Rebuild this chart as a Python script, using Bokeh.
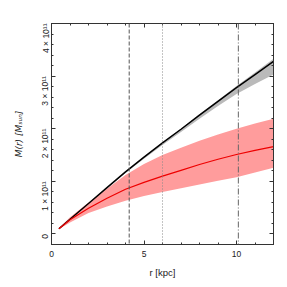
import math
from bokeh.plotting import figure
from bokeh.models import Range1d, LinearAxis, Span, FixedTicker
from bokeh.embed import file_html
from bokeh.resources import INLINE

# radius [kpc]
r = [0.4, 1, 2, 3, 4, 5, 6, 7, 8, 9, 10, 11, 12]
# total mass (black) [1e11 Msun]
m_black = [0.10, 0.28, 0.58, 0.88, 1.18, 1.46, 1.73, 1.99, 2.26, 2.52, 2.78, 3.03, 3.28]
m_grey_hi = [0.10, 0.28, 0.58, 0.88, 1.185, 1.47, 1.74, 2.00, 2.28, 2.54, 2.81, 3.07, 3.33]
m_grey_lo = [0.10, 0.28, 0.57, 0.87, 1.16, 1.43, 1.69, 1.94, 2.19, 2.43, 2.66, 2.85, 3.03]
# red model
m_red = [0.10, 0.27, 0.49, 0.68, 0.85, 0.98, 1.10, 1.21, 1.32, 1.42, 1.51, 1.59, 1.66]
m_red_hi = [0.11, 0.32, 0.60, 0.86, 1.12, 1.33, 1.50, 1.64, 1.77, 1.89, 2.00, 2.10, 2.19]
m_red_lo = [0.09, 0.22, 0.40, 0.52, 0.63, 0.72, 0.80, 0.87, 0.94, 1.01, 1.08, 1.17, 1.26]
# vertical reference lines [kpc]
v_dashed = 4.2
v_dotted = 6.0
v_dashdot = 10.1

y_ticks = [0, 1e11, 2e11, 3e11, 4e11]
y_tick_labels = ["0", "1 × 10¹¹", "2 × 10¹¹", "3 × 10¹¹", "4 × 10¹¹"]
x_ticks = [0, 5, 10]
x_label = "r [kpc]"
y_label = "M(r) [Mₛᵤₙ]"

S = 1e11
FONT = "Liberation Sans"
AX = "#333333"
TXT = "#222222"

p = figure(frame_width=222, frame_height=221, output_backend="svg", toolbar_location=None,
           x_range=Range1d(0, 12), y_range=Range1d(-0.2e11, 4e11),
           min_border_left=51, min_border_right=6, min_border_top=23, min_border_bottom=35)
p.grid.visible = False
p.outline_line_color = AX
p.background_fill_color = "white"


def style(ax):
    ax.axis_line_color = AX
    ax.major_tick_line_color = AX
    ax.minor_tick_line_color = AX
    ax.major_tick_in = 4
    ax.major_tick_out = 0
    ax.minor_tick_in = 2
    ax.minor_tick_out = 0
    ax.major_label_text_font = FONT
    ax.major_label_text_color = TXT
    ax.major_label_text_font_size = "8.5px"
    ax.major_label_standoff = 6


x_minor = list(range(0, 13))
y_minor = [i * 2e10 for i in range(-1, 21)]

p.xaxis.ticker = FixedTicker(ticks=x_ticks, minor_ticks=x_minor)
p.yaxis.ticker = FixedTicker(ticks=y_ticks, minor_ticks=y_minor)
style(p.xaxis[0])
style(p.yaxis[0])
p.yaxis.major_label_overrides = {t: l for t, l in zip(y_ticks, y_tick_labels)}
p.yaxis.major_label_orientation = math.pi / 2

p.xaxis.axis_label = x_label
p.xaxis.axis_label_text_font = FONT
p.xaxis.axis_label_text_font_style = "normal"
p.xaxis.axis_label_text_font_size = "9.5px"
p.xaxis.axis_label_text_color = TXT
p.xaxis.axis_label_standoff = 7

p.yaxis.axis_label = y_label
p.yaxis.axis_label_text_font = "DejaVu Sans"
p.yaxis.axis_label_text_font_style = "italic"
p.yaxis.axis_label_text_font_size = "9px"
p.yaxis.axis_label_text_color = TXT
p.yaxis.axis_label_standoff = 9

top = LinearAxis(ticker=FixedTicker(ticks=x_ticks, minor_ticks=x_minor))
right = LinearAxis(ticker=FixedTicker(ticks=y_ticks, minor_ticks=y_minor))
for ax, tk in ((top, x_ticks), (right, y_ticks)):
    style(ax)
    ax.major_label_overrides = {t: "" for t in tk}
    ax.major_label_standoff = 0
p.add_layout(top, "above")
p.add_layout(right, "right")

p.varea(x=r, y1=[v * S for v in m_grey_lo], y2=[v * S for v in m_grey_hi], fill_color="#bababa")
p.varea(x=r, y1=[v * S for v in m_red_lo], y2=[v * S for v in m_red_hi], fill_color="#ff9c9c")
p.line(r, [v * S for v in m_black], line_color="black", line_width=1.5)
p.line(r, [v * S for v in m_red], line_color="#ee0000", line_width=1.2)

p.add_layout(Span(location=v_dashed, dimension="height", line_color="#555555", line_width=1, line_dash="4 2"))
p.add_layout(Span(location=v_dotted, dimension="height", line_color="#888888", line_width=1, line_dash="1 2"))
p.add_layout(Span(location=v_dashdot, dimension="height", line_color="#666666", line_width=1, line_dash="6 2 1 2"))

open("out.html", "w").write(file_html(p, INLINE))
